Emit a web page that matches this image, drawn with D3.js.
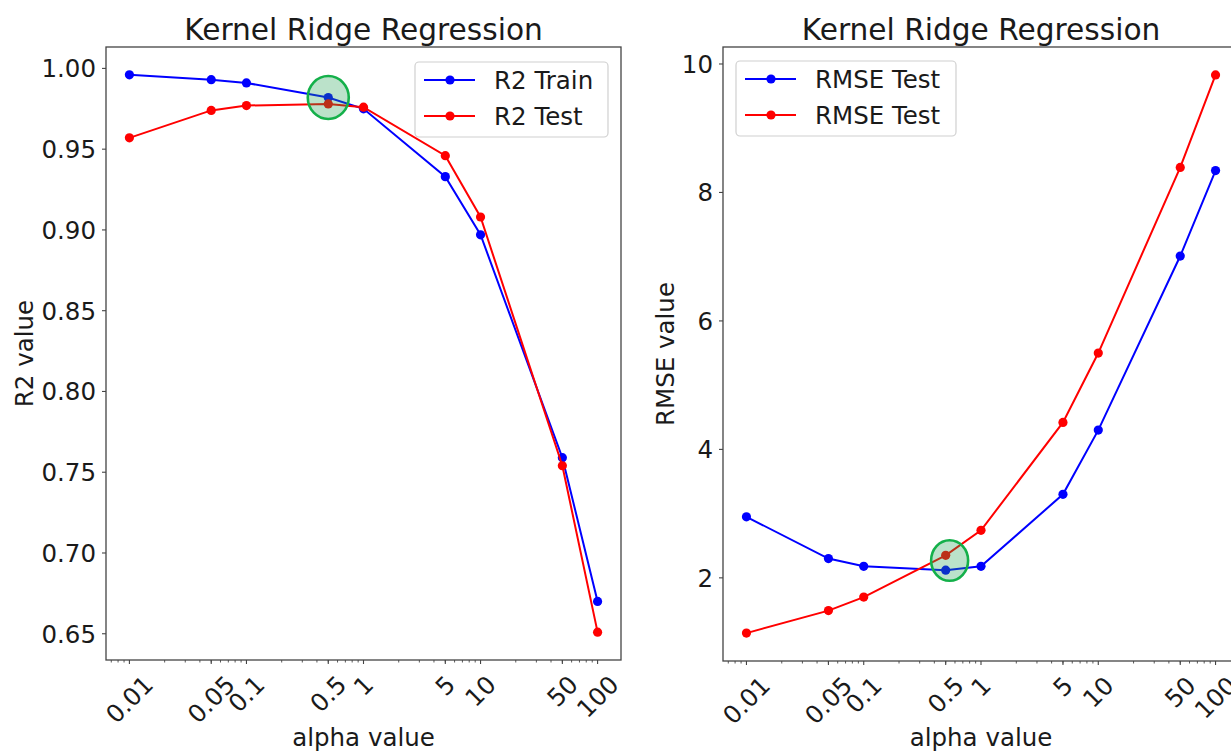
<!DOCTYPE html>
<html>
<head>
<meta charset="utf-8">
<script src="https://cdn.jsdelivr.net/npm/d3@7"></script>
<style>
  body { margin: 0; background: #fff; }
  svg text { font-family: "DejaVu Sans", sans-serif; fill: #1a1a1a; }
</style>
</head>
<body>
<div id="chart"></div>
<script>
// values
const alphas = [0.01, 0.05, 0.1, 0.5, 1, 5, 10, 50, 100];
const alphaLabels = ["0.01", "0.05", "0.1", "0.5", "1", "5", "10", "50", "100"];

const r2Train = [0.996, 0.993, 0.991, 0.982, 0.975, 0.933, 0.897, 0.759, 0.670];
const r2Test = [0.957, 0.974, 0.977, 0.978, 0.976, 0.946, 0.908, 0.754, 0.651];
const r2Ticks = [0.65, 0.70, 0.75, 0.80, 0.85, 0.90, 0.95, 1.00];

const rmseTrain = [2.95, 2.30, 2.18, 2.12, 2.18, 3.30, 4.30, 7.01, 8.34];
const rmseTest = [1.14, 1.49, 1.70, 2.35, 2.74, 4.42, 5.50, 8.39, 9.83];
const rmseTicks = [2, 4, 6, 8, 10];

// highlighted optimum (alpha, value) per panel
const r2Best = [0.5, 0.982];
const rmseBest = [0.54, 2.27];

const width = 1231;
const height = 751;
const FONT = 24.5;

const svg = d3.select("#chart")
    .append("svg")
    .attr("width", width)
    .attr("height", height);

//matplotlib style 5% padding of the data range
function padDomain(lo, hi){
    const pad = (hi - lo) * 0.05;
    return [lo - pad, hi + pad];
}

function makePanel(p){
    const g = svg.append("g");

    const logLo = Math.log10(d3.min(alphas));
    const logHi = Math.log10(d3.max(alphas));
    const logPad = (logHi - logLo) * 0.05;
    const x = d3.scaleLog()
        .domain([Math.pow(10, logLo - logPad), Math.pow(10, logHi + logPad)])
        .range([p.x0, p.x1]);

    const allVals = p.series.flatMap(s => s.values);
    const y = d3.scaleLinear()
        .domain(padDomain(d3.min(allVals), d3.max(allVals)))
        .range([p.y1, p.y0]);

    //series lines + markers
    p.series.forEach(s => {
        const pts = alphas.map((a, i) => [a, s.values[i]]);
        g.append("path")
            .datum(pts)
            .attr("fill", "none")
            .attr("stroke", s.color)
            .attr("stroke-width", 2)
            .attr("d", d3.line().x(d => x(d[0])).y(d => y(d[1])));
        g.selectAll(null)
            .data(pts)
            .join("circle")
            .attr("cx", d => x(d[0]))
            .attr("cy", d => y(d[1]))
            .attr("r", 4.6)
            .attr("fill", s.color);
    });

    //translucent highlight circle drawn over the lines
    g.append("ellipse")
        .attr("cx", x(p.best[0]))
        .attr("cy", y(p.best[1]))
        .attr("rx", p.rx)
        .attr("ry", p.ry)
        .attr("fill", "rgb(30,160,80)")
        .attr("fill-opacity", 0.3)
        .attr("stroke", "#14b04a")
        .attr("stroke-width", 2.6);

    //frame
    g.append("rect")
        .attr("x", p.x0)
        .attr("y", p.y0)
        .attr("width", p.x1 - p.x0)
        .attr("height", p.y1 - p.y0)
        .attr("fill", "none")
        .attr("stroke", "#444")
        .attr("stroke-width", 1.3);

    //x ticks, major and minor
    const minors = [];
    for(let e = -3; e <= 2; e++){
        for(let m = 2; m <= 9; m++){
            const v = m * Math.pow(10, e);
            if(v > x.domain()[0] && v < x.domain()[1]) minors.push(v);
        }
    }
    g.selectAll(null).data(minors).join("line")
        .attr("x1", d => x(d)).attr("x2", d => x(d))
        .attr("y1", p.y1).attr("y2", p.y1 + 2.5)
        .attr("stroke", "#444").attr("stroke-width", 0.9);
    g.selectAll(null).data(alphas).join("line")
        .attr("x1", d => x(d)).attr("x2", d => x(d))
        .attr("y1", p.y1).attr("y2", p.y1 + 4)
        .attr("stroke", "#444").attr("stroke-width", 1.1);

    //rotated x tick labels, box centered under the tick like matplotlib
    alphas.forEach((a, i) => {
        const t = g.append("text")
            .attr("font-size", FONT)
            .attr("text-anchor", "middle")
            .attr("dy", "0.35em")
            .text(alphaLabels[i]);
        const w = t.node().getComputedTextLength();
        const half = (w + FONT * 1.16) * Math.SQRT1_2 / 2;
        t.attr("transform", `translate(${x(a)},${p.y1 + 10 + half}) rotate(-45)`);
    });

    //y ticks
    g.selectAll(null).data(p.yTicks).join("line")
        .attr("x1", p.x0 - 4).attr("x2", p.x0)
        .attr("y1", d => y(d)).attr("y2", d => y(d))
        .attr("stroke", "#444").attr("stroke-width", 1.1);
    g.selectAll(null).data(p.yTicks).join("text")
        .attr("x", p.x0 - 10)
        .attr("y", d => y(d))
        .attr("dy", "0.36em")
        .attr("text-anchor", "end")
        .attr("font-size", FONT)
        .text(p.yFormat);

    //titles
    const cx = (p.x0 + p.x1) / 2;
    g.append("text")
        .attr("x", cx).attr("y", 40)
        .attr("text-anchor", "middle")
        .attr("font-size", FONT * 1.21)
        .text("Kernel Ridge Regression");
    g.append("text")
        .attr("x", cx).attr("y", 746)
        .attr("text-anchor", "middle")
        .attr("font-size", FONT)
        .text("alpha value");
    g.append("text")
        .attr("transform", `translate(${p.yLabelX},${(p.y0 + p.y1) / 2}) rotate(-90)`)
        .attr("text-anchor", "middle")
        .attr("dy", "0.35em")
        .attr("font-size", FONT)
        .text(p.yLabel);

    //legend
    const L = p.legend;
    g.append("rect")
        .attr("x", L.x).attr("y", L.y)
        .attr("width", L.w).attr("height", 75)
        .attr("rx", 4)
        .attr("fill", "white").attr("fill-opacity", 0.8)
        .attr("stroke", "#d0d0d0").attr("stroke-width", 1.2);
    p.series.forEach((s, i) => {
        const ry = L.y + 18 + i * 36;
        g.append("line")
            .attr("x1", L.x + 9).attr("x2", L.x + 60)
            .attr("y1", ry).attr("y2", ry)
            .attr("stroke", s.color).attr("stroke-width", 2);
        g.append("circle")
            .attr("cx", L.x + 35).attr("cy", ry).attr("r", 4.6)
            .attr("fill", s.color);
        g.append("text")
            .attr("x", L.x + 79).attr("y", ry)
            .attr("dy", "0.36em")
            .attr("font-size", FONT)
            .text(s.name);
    });
}

makePanel({
    x0: 106, x1: 621, y0: 47, y1: 660,
    series: [
        { name: "R2 Train", values: r2Train, color: "#0000ff" },
        { name: "R2 Test", values: r2Test, color: "#ff0000" }
    ],
    yTicks: r2Ticks,
    yFormat: d3.format(".2f"),
    yLabel: "R2 value",
    yLabelX: 24,
    best: r2Best, rx: 20.5, ry: 21.5,
    legend: { x: 415, y: 62, w: 193 }
});

makePanel({
    x0: 723, x1: 1239, y0: 47, y1: 661,
    series: [
        { name: "RMSE Test", values: rmseTrain, color: "#0000ff" },
        { name: "RMSE Test", values: rmseTest, color: "#ff0000" }
    ],
    yTicks: rmseTicks,
    yFormat: d3.format("d"),
    yLabel: "RMSE value",
    yLabelX: 665,
    best: rmseBest, rx: 18.5, ry: 20.3,
    legend: { x: 736, y: 61, w: 220 }
});
</script>
</body>
</html>
